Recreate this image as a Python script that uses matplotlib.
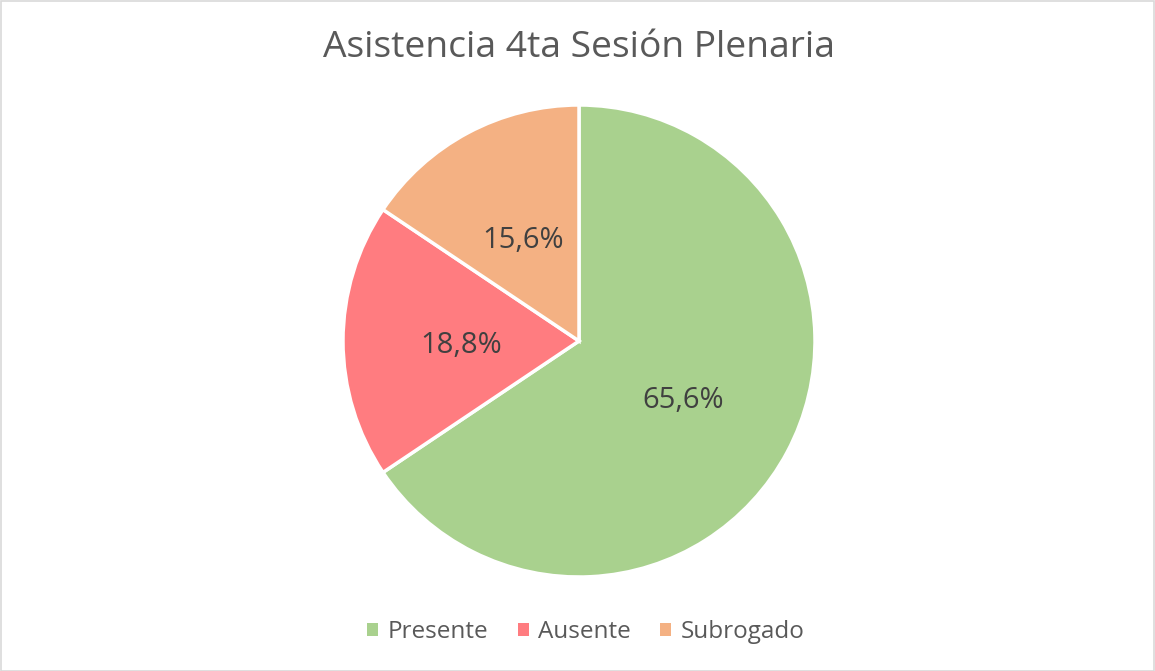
import matplotlib
matplotlib.use('Agg')
from matplotlib import pyplot as plt
from matplotlib.patches import Rectangle, Patch

plt.rcParams['font.family'] = ['Open Sans', 'DejaVu Sans']

categories = ['Presente', 'Ausente', 'Subrogado']
values = [65.6, 18.8, 15.6]
colors = ['#A9D18E', '#FF7C80', '#F4B183']

W, H = 1155, 671
fig = plt.figure(figsize=(W / 100, H / 100), dpi=100)
fig.patch.set_facecolor('white')

# pie center (579, 341) px from top, radius 236 px
cx, cy, r = 579, 341, 236
ax = fig.add_axes([(cx - r) / W, (H - cy - r) / H, 2 * r / W, 2 * r / H])

wedges, texts, autotexts = ax.pie(
    values, colors=colors, startangle=90, counterclock=False,
    autopct=lambda p: ('%.1f%%' % p).replace('.', ','), pctdistance=0.5,
    wedgeprops=dict(edgecolor='white', linewidth=2.5),
    textprops=dict(color='#404040', fontsize=21))
for t in autotexts:
    x, y = t.get_position()
    t.set_position((x, y - 0.017))
ax.set_xlim(-1.0, 1.0)
ax.set_ylim(-1.0, 1.0)
ax.set_aspect('equal')
ax.axis('off')

fig.text(cx / W, 1 - 48 / H, 'Asistencia 4ta Sesión Plenaria', ha='center', va='center',
         fontsize=26.8, color='#595959')

handles = [Patch(facecolor=c, edgecolor='none') for c in colors]
fig.legend(handles, categories, loc='center', bbox_to_anchor=(586 / W, 1 - 632 / H),
           ncol=3, frameon=False, fontsize=17.5, labelcolor='#595959',
           handlelength=0.45, handleheight=0.45, handletextpad=0.4, columnspacing=1.2)

fig.patches.append(Rectangle((0.5 / W, 0.5 / H), 1 - 1.5 / W, 1 - 1.5 / H, transform=fig.transFigure,
                             fill=False, edgecolor='#D9D9D9', linewidth=1.2))

fig.savefig('out.png', dpi=100)
